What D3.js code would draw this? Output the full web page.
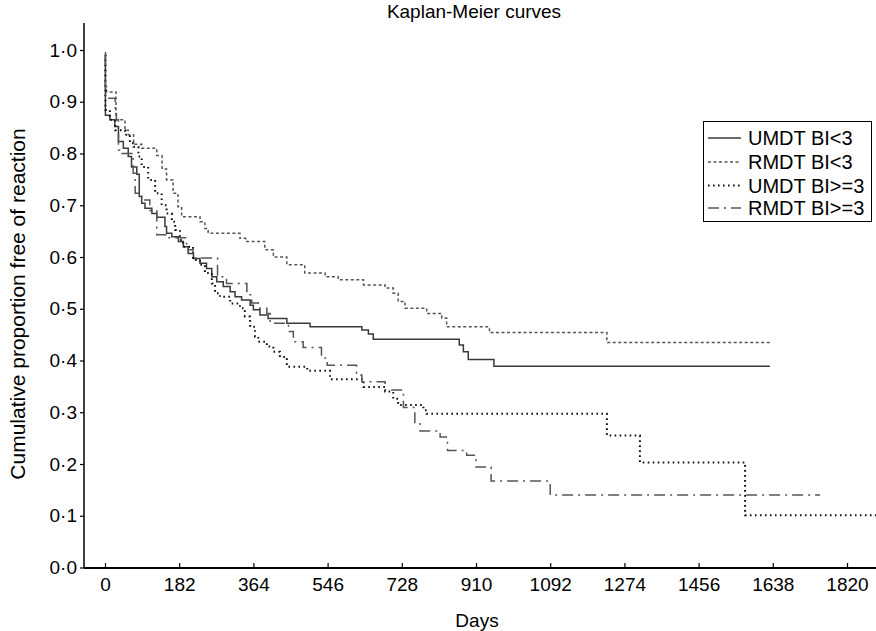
<!DOCTYPE html>
<html>
<head>
<meta charset="utf-8">
<script src="https://cdn.jsdelivr.net/npm/d3@7"></script>
<style>
  html, body { margin: 0; padding: 0; background: #fff; }
  svg { display: block; font-family: "Liberation Sans", Arial, sans-serif; }
</style>
</head>
<body>
<svg id="chart" width="876" height="631"></svg>
<script>
// ---- data (days, cumulative proportion free of reaction), step functions ----
const seriesNames = ["UMDT BI<3", "RMDT BI<3", "UMDT BI>=3", "RMDT BI>=3"];

const umdtLow = [
  [0,0.99],[1,0.874],[12,0.865],[24,0.852],[33,0.823],[45,0.810],[57,0.794],[65,0.774],
  [78,0.760],[84,0.717],[90,0.704],[98,0.694],[115,0.684],[127,0.677],[147,0.659],[151,0.646],
  [164,0.639],[180,0.630],[192,0.620],[204,0.607],[217,0.597],[233,0.588],[249,0.578],
  [262,0.562],[274,0.552],[290,0.543],[307,0.533],[319,0.523],[335,0.517],[356,0.507],
  [364,0.498],[380,0.488],[400,0.481],[446,0.472],[503,0.465],[630,0.459],[646,0.451],
  [658,0.441],[869,0.430],[879,0.417],[891,0.402],[954,0.389],[1631,0.389]
];

const rmdtLow = [
  [0,0.995],[1,0.929],[4,0.919],[27,0.865],[49,0.845],[57,0.836],[70,0.818],[90,0.810],
  [127,0.796],[140,0.770],[151,0.749],[167,0.723],[179,0.697],[188,0.678],[233,0.668],
  [245,0.655],[253,0.646],[331,0.636],[345,0.630],[392,0.614],[413,0.600],[446,0.585],
  [490,0.569],[540,0.562],[572,0.556],[634,0.546],[687,0.540],[707,0.530],[719,0.514],
  [736,0.501],[789,0.491],[826,0.482],[838,0.465],[943,0.454],[1231,0.435],[1635,0.435]
];

const umdtHigh = [
  [0,0.99],[1,0.884],[12,0.865],[25,0.845],[49,0.836],[61,0.820],[70,0.813],[82,0.794],
  [90,0.774],[106,0.749],[123,0.723],[139,0.700],[151,0.684],[164,0.668],[172,0.652],
  [184,0.633],[192,0.620],[216,0.594],[233,0.585],[245,0.569],[262,0.549],[270,0.530],
  [282,0.523],[307,0.510],[331,0.501],[343,0.485],[356,0.465],[368,0.446],[376,0.436],
  [397,0.427],[413,0.417],[429,0.407],[446,0.388],[496,0.380],[552,0.364],[634,0.349],
  [687,0.340],[707,0.326],[719,0.314],[781,0.304],[789,0.297],[1231,0.255],[1312,0.203],
  [1570,0.101],[1895,0.101]
];

const rmdtHigh = [
  [0,0.99],[1,0.907],[25,0.881],[28,0.865],[33,0.807],[41,0.800],[69,0.762],[74,0.723],
  [90,0.710],[110,0.690],[127,0.643],[152,0.637],[200,0.620],[204,0.614],[216,0.598],
  [276,0.562],[298,0.549],[348,0.527],[360,0.511],[376,0.501],[397,0.491],[405,0.472],
  [450,0.456],[462,0.436],[486,0.425],[531,0.405],[545,0.391],[617,0.372],[630,0.359],
  [687,0.343],[732,0.309],[760,0.280],[773,0.264],[822,0.252],[840,0.226],[887,0.217],
  [910,0.194],[947,0.167],[1092,0.140],[1754,0.140]
];

const xTicks = [0,182,364,546,728,910,1092,1274,1456,1638,1820];
const yTicks = [0,0.1,0.2,0.3,0.4,0.5,0.6,0.7,0.8,0.9,1.0];

// ---- layout ----
const svg = d3.select("#chart");
const plotLeft = 84, plotRight = 876, plotTop = 23, plotBottom = 568;
const FONT = "Liberation Sans, Arial, sans-serif";

const x = d3.scaleLinear().domain([0, 1820]).range([105, 847]);
const y = d3.scaleLinear().domain([0, 1]).range([567.5, 50]);

const styles = [
  { color: "#3a3a3a", width: 1.5, dash: null },
  { color: "#555", width: 1.5, dash: "3,2.5" },
  { color: "#111", width: 2, dash: "1.6,3.4" },
  { color: "#555", width: 1.5, dash: "11,5,2,5" }
];
const data = [umdtLow, rmdtLow, umdtHigh, rmdtHigh];

svg.append("defs").append("clipPath").attr("id", "clip")
  .append("rect").attr("x", plotLeft).attr("y", plotTop - 5)
  .attr("width", plotRight - plotLeft).attr("height", plotBottom - plotTop + 5);

const line = d3.line().x(d => x(d[0])).y(d => y(d[1])).curve(d3.curveStepAfter);

const g = svg.append("g").attr("clip-path", "url(#clip)");
data.forEach((s, i) => {
  g.append("path").datum(s)
    .attr("d", line)
    .attr("fill", "none")
    .attr("stroke", styles[i].color)
    .attr("stroke-width", styles[i].width)
    .attr("stroke-dasharray", styles[i].dash);
});

// ---- axes ----
const fmt = v => d3.format(".1f")(v).replace(".", "\u00B7");

const yAxis = svg.append("g").attr("transform", `translate(${plotLeft},0)`)
  .call(d3.axisLeft(y).tickValues(yTicks).tickFormat(fmt).tickSize(4).tickPadding(3));
yAxis.select(".domain").remove();
yAxis.append("line").attr("x1", 0).attr("x2", 0).attr("y1", plotTop).attr("y2", plotBottom)
  .attr("stroke", "#000").attr("stroke-width", 1.5);
yAxis.selectAll(".tick line").attr("stroke", "#000").attr("stroke-width", 1.2);
yAxis.selectAll(".tick text").attr("font-size", 19).attr("fill", "#000")
  .attr("font-family", FONT);

const xAxis = svg.append("g").attr("transform", `translate(0,${plotBottom})`)
  .call(d3.axisBottom(x).tickValues(xTicks).tickFormat(d3.format("d")).tickSize(-5).tickPadding(10));
xAxis.select(".domain").remove();
xAxis.append("line").attr("x1", plotLeft).attr("x2", plotRight).attr("y1", 0).attr("y2", 0)
  .attr("stroke", "#000").attr("stroke-width", 2.2);
xAxis.selectAll(".tick line").attr("stroke", "#000").attr("stroke-width", 1.2);
xAxis.selectAll(".tick text").attr("font-size", 19).attr("fill", "#000")
  .attr("font-family", FONT);

// ---- titles ----
svg.append("text").attr("x", 474).attr("y", 18).attr("text-anchor", "middle")
  .attr("font-size", 19).text("Kaplan-Meier curves");
svg.append("text").attr("x", 477).attr("y", 627).attr("text-anchor", "middle")
  .attr("font-size", 19).text("Days");
svg.append("text").attr("transform", "translate(25,304) rotate(-90)")
  .attr("text-anchor", "middle").attr("font-size", 21)
  .text("Cumulative proportion free of reaction");

// ---- legend ----
const lg = svg.append("g");
lg.append("rect").attr("x", 703.5).attr("y", 121.5).attr("width", 168).attr("height", 100)
  .attr("fill", "#fff").attr("stroke", "#000").attr("stroke-width", 1);
const rowY = [138, 162, 185.5, 208];
seriesNames.forEach((name, i) => {
  lg.append("line").attr("x1", 708).attr("x2", 741).attr("y1", rowY[i]).attr("y2", rowY[i])
    .attr("stroke", styles[i].color).attr("stroke-width", styles[i].width)
    .attr("stroke-dasharray", styles[i].dash);
  lg.append("text").attr("x", 748).attr("y", rowY[i]).attr("dy", "0.36em")
    .attr("font-size", 20).text(name);
});
</script>
</body>
</html>
